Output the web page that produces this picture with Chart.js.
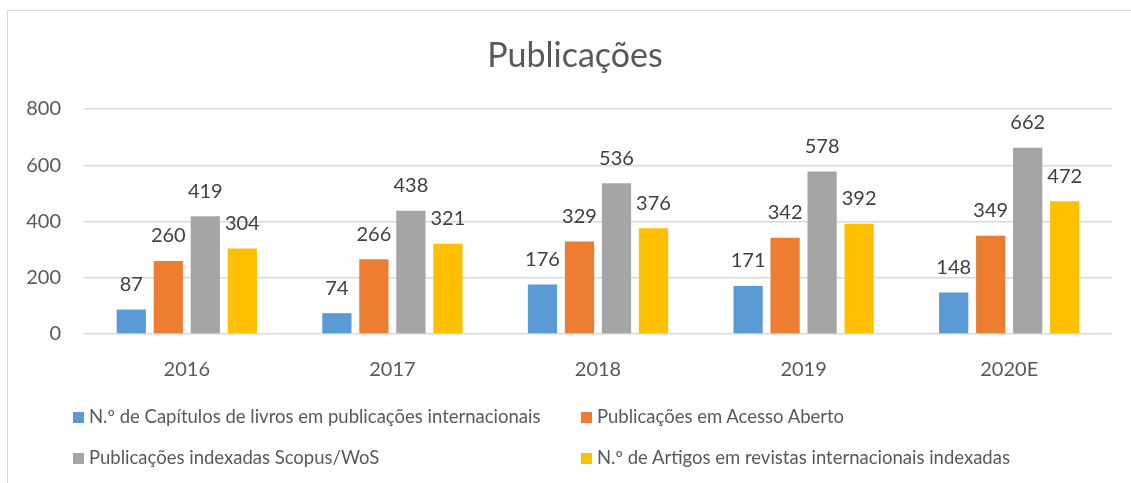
<!DOCTYPE html>
<html>
<head>
<meta charset="utf-8">
<script src="https://cdn.jsdelivr.net/npm/chart.js@4"></script>
<style>
  html, body { margin: 0; padding: 0; background: #fff; }
  #wrap { position: relative; width: 1131px; height: 483px; overflow: hidden; }
  #frame { position: absolute; left: 7px; top: 10px; width: 1200px; height: 600px;
           border: 1px solid #d9d9d9; box-sizing: border-box; }
  #chart { position: absolute; left: 0; top: 0; }
  #legend { position: absolute; left: 0; top: 0; width: 1131px; height: 483px; pointer-events: none;
            font-family: Lato, sans-serif; font-size: 18.5px; color: #595959; }
  .item { position: absolute; white-space: nowrap; line-height: 20px; }
  .item span.box { display: inline-block; width: 11px; height: 11px; margin-right: 5px; vertical-align: 0px; }
</style>
</head>
<body>
<div id="wrap">
  <div id="frame"></div>
  <canvas id="chart" width="1131" height="483"></canvas>
  <div id="legend"></div>
</div>
<script>
// categorias e séries
const anos = ['2016', '2017', '2018', '2019', '2020E'];
const capitulos = [87, 74, 176, 171, 148];
const acessoAberto = [260, 266, 329, 342, 349];
const scopusWos = [419, 438, 536, 578, 662];
const artigos = [304, 321, 376, 392, 472];
const yTicks = [0, 200, 400, 600, 800];
const titulo = 'Publicações';

const series = [
  { label: 'N.º de Capítulos de livros em publicações internacionais', data: capitulos, color: '#5B9BD5' },
  { label: 'Publicações em Acesso Aberto', data: acessoAberto, color: '#ED7D31' },
  { label: 'Publicações indexadas Scopus/WoS', data: scopusWos, color: '#A5A5A5' },
  { label: 'N.º de Artigos em revistas internacionais indexadas', data: artigos, color: '#FFC000' }
];

const FONT = 'Lato, sans-serif';

// título e rótulos de valor por cima de cada barra
const valueLabels = {
  id: 'valueLabels',
  afterDatasetsDraw(chart) {
    const ctx = chart.ctx;
    ctx.save();
    ctx.fillStyle = '#595959';
    ctx.textAlign = 'center';
    ctx.textBaseline = 'middle';
    ctx.font = '34px ' + FONT;
    ctx.fillText(titulo, 575, 56);

    ctx.font = '20px ' + FONT;
    ctx.fillStyle = '#404040';
    chart.data.datasets.forEach((ds, i) => {
      chart.getDatasetMeta(i).data.forEach((bar, j) => {
        ctx.fillText(String(ds.data[j]), bar.x, bar.y - 25);
      });
    });
    ctx.restore();
  }
};

new Chart(document.getElementById('chart'), {
  type: 'bar',
  data: {
    labels: anos,
    datasets: series.map(s => ({
      label: s.label,
      data: s.data,
      backgroundColor: s.color,
      borderWidth: 0,
      barPercentage: 0.79,
      categoryPercentage: 0.72
    }))
  },
  options: {
    responsive: false,
    animation: false,
    devicePixelRatio: 1,
    layout: { padding: { left: 0, right: 19, top: 109, bottom: 85 } },
    plugins: {
      legend: { display: false },
      tooltip: { enabled: false },
      title: { display: false }
    },
    scales: {
      x: {
        grid: { display: false },
        border: { display: false },
        ticks: { color: '#595959', font: { family: FONT, size: 20 }, padding: 16 }
      },
      y: {
        min: 0,
        max: 800,
        afterBuildTicks(scale) { scale.ticks = yTicks.map(v => ({ value: v })); },
        afterFit(scale) { scale.width = 84; },
        grid: { color: '#d9d9d9', lineWidth: 1.5, drawTicks: false },
        border: { display: false },
        ticks: { color: '#595959', font: { family: FONT, size: 20 }, padding: 23 }
      }
    }
  },
  plugins: [valueLabels]
});

// legenda em duas colunas, como no original
const legend = document.getElementById('legend');
const pos = [[73, 406], [581, 406], [73, 447], [581, 447]];
series.forEach((s, i) => {
  const d = document.createElement('div');
  d.className = 'item';
  d.style.left = pos[i][0] + 'px';
  d.style.top = pos[i][1] + 'px';
  d.innerHTML = '<span class="box" style="background:' + s.color + '"></span>' + s.label;
  legend.appendChild(d);
});
</script>
</body>
</html>
